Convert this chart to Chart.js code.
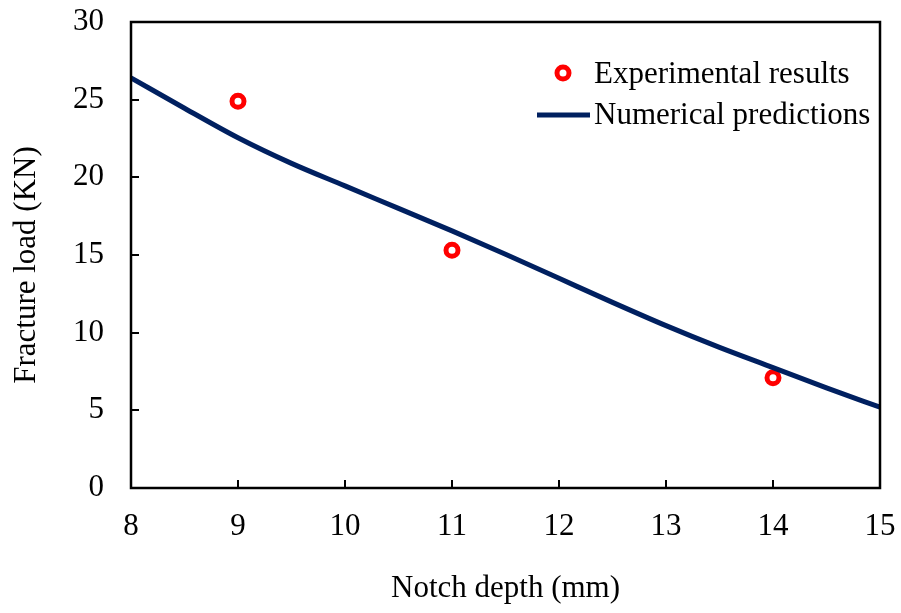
<!DOCTYPE html>
<html><head><meta charset="utf-8">
<script src="https://cdn.jsdelivr.net/npm/chart.js@4/dist/chart.umd.min.js"></script>
<style>html,body{margin:0;padding:0;background:#fff}#wrap{width:901px;height:613px;position:relative}</style>
</head><body><div id="wrap"><canvas id="c" width="901" height="613"></canvas></div>
<script>
const expDepth = [9, 11, 14];
const expLoad = [24.9, 15.3, 7.1];
const numDepth = [8, 8.5, 9, 9.5, 10, 10.5, 11, 11.5, 12, 12.5, 13, 13.5, 14, 14.5, 15];
const numLoad = [26.4, 24.45, 22.55, 20.9, 19.45, 18.0, 16.55, 15.05, 13.5, 11.95, 10.45, 9.05, 7.75, 6.45, 5.2];
const xTicks = [8, 9, 10, 11, 12, 13, 14, 15];
const yTicks = [0, 5, 10, 15, 20, 25, 30];
const seriesNames = ['Experimental results', 'Numerical predictions'];
const xTitle = 'Notch depth (mm)';
const yTitle = 'Fracture load (KN)';

const FONT = 'Liberation Serif';
const FS = 31;
const NAVY = '#002060';
const RED = '#ff0000';

function zeroPad(s) { s.paddingTop = 0; s.paddingBottom = 0; s.paddingLeft = 0; s.paddingRight = 0; }

const framePlugin = {
  id: 'frame',
  afterDatasetsDraw(chart) {
    const ctx = chart.ctx, a = chart.chartArea;
    const xs = chart.scales.x, ys = chart.scales.y;
    ctx.save();
    ctx.strokeStyle = '#000';
    ctx.lineWidth = 2;
    xTicks.forEach(v => {
      const px = Math.round(xs.getPixelForValue(v));
      ctx.beginPath(); ctx.moveTo(px, a.bottom); ctx.lineTo(px, a.bottom - 8); ctx.stroke();
    });
    yTicks.forEach(v => {
      const py = Math.round(ys.getPixelForValue(v));
      ctx.beginPath(); ctx.moveTo(a.left, py); ctx.lineTo(a.left + 8, py); ctx.stroke();
    });
    ctx.lineWidth = 2.5;
    ctx.strokeRect(a.left, a.top, a.right - a.left, a.bottom - a.top);
    ctx.restore();
  }
};

const yTitlePlugin = {
  id: 'yTitle',
  afterDraw(chart) {
    const ctx = chart.ctx, a = chart.chartArea;
    ctx.save();
    ctx.font = FS + 'px "' + FONT + '"';
    ctx.fillStyle = '#000';
    ctx.textAlign = 'center';
    ctx.textBaseline = 'middle';
    ctx.translate(27, (a.top + a.bottom) / 2 + 10);
    ctx.rotate(-Math.PI / 2);
    ctx.fillText(yTitle, 0, 0);
    ctx.restore();
  }
};

const legendPlugin = {
  id: 'customLegend',
  afterDraw(chart) {
    const ctx = chart.ctx, a = chart.chartArea;
    const textX = a.right - 286;
    ctx.save();
    ctx.font = FS + 'px "' + FONT + '"';
    ctx.textBaseline = 'alphabetic';
    ctx.textAlign = 'left';
    const d0 = chart.data.datasets[0];
    ctx.beginPath();
    ctx.arc(a.right - 317, a.top + 51, d0.pointRadius, 0, Math.PI * 2);
    ctx.fillStyle = d0.pointBackgroundColor;
    ctx.fill();
    ctx.lineWidth = d0.pointBorderWidth;
    ctx.strokeStyle = d0.pointBorderColor;
    ctx.stroke();
    ctx.fillStyle = '#000';
    ctx.fillText(d0.label, textX, a.top + 61);
    const d1 = chart.data.datasets[1];
    ctx.beginPath();
    ctx.moveTo(a.right - 343, a.top + 93);
    ctx.lineTo(a.right - 290, a.top + 93);
    ctx.lineWidth = d1.borderWidth;
    ctx.strokeStyle = d1.borderColor;
    ctx.stroke();
    ctx.fillText(d1.label, textX, a.top + 102);
    ctx.restore();
  }
};

new Chart(document.getElementById('c'), {
  type: 'line',
  data: {
    datasets: [
      {
        label: seriesNames[0],
        data: expDepth.map((x, i) => ({ x: x, y: expLoad[i] })),
        showLine: false,
        pointRadius: 6,
        pointBorderWidth: 5,
        pointBorderColor: RED,
        pointBackgroundColor: '#ffffff',
        order: 1
      },
      {
        label: seriesNames[1],
        data: numDepth.map((x, i) => ({ x: x, y: numLoad[i] })),
        borderColor: NAVY,
        borderWidth: 5,
        pointRadius: 0,
        cubicInterpolationMode: 'monotone',
        fill: false,
        order: 0
      }
    ]
  },
  options: {
    responsive: false,
    animation: false,
    devicePixelRatio: 1,
    layout: { padding: { left: 0, right: 21, top: 22, bottom: 0 } },
    plugins: { legend: { display: false }, tooltip: { enabled: false } },
    scales: {
      x: {
        type: 'linear', min: 8, max: 15,
        afterBuildTicks(s) { s.ticks = xTicks.map(v => ({ value: v })); },
        afterFit(s) { s.height = 125; zeroPad(s); },
        grid: { display: false, drawTicks: false },
        border: { display: false },
        ticks: { color: '#000', font: { family: FONT, size: FS }, padding: 20, maxRotation: 0, autoSkip: false },
        title: { display: true, text: xTitle, color: '#000', font: { family: FONT, size: FS }, padding: { top: 0, bottom: 6 } }
      },
      y: {
        type: 'linear', min: 0, max: 30,
        afterBuildTicks(s) { s.ticks = yTicks.map(v => ({ value: v })); },
        afterFit(s) { s.width = 131; zeroPad(s); },
        grid: { display: false, drawTicks: false },
        border: { display: false },
        ticks: { color: '#000', font: { family: FONT, size: FS }, padding: 27, autoSkip: false },
        title: { display: false }
      }
    }
  },
  plugins: [framePlugin, yTitlePlugin, legendPlugin]
});
</script>
</body></html>
